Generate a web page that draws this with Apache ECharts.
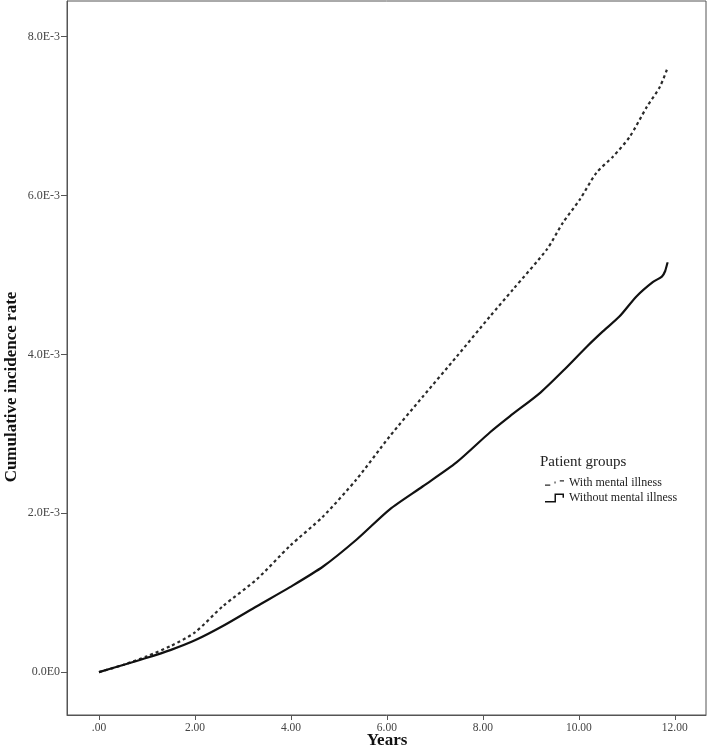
<!DOCTYPE html>
<html>
<head>
<meta charset="utf-8">
<script src="https://cdn.jsdelivr.net/npm/echarts@6/dist/echarts.min.js"></script>
<style>
html, body { margin: 0; padding: 0; background: #fff; }
#main { width: 709px; height: 746px; }
</style>
</head>
<body>
<div id="main"></div>
<script>
// years and cumulative incidence (in units of 1E-3)
var yearsWith = [0, 0.5, 1, 1.5, 2, 2.58, 3.29, 3.98, 4.67, 5.37, 6.06, 6.75, 7.45, 8.15, 8.63, 9.33, 9.67, 10.02, 10.37, 10.71, 11.06, 11.42, 11.69, 11.85];
var rateWith = [0, 0.09, 0.2, 0.33, 0.5, 0.83, 1.17, 1.59, 1.96, 2.43, 2.97, 3.47, 3.97, 4.48, 4.82, 5.32, 5.66, 5.95, 6.29, 6.49, 6.74, 7.12, 7.37, 7.61];

var yearsWithout = [0, 0.5, 1, 1.5, 2, 2.58, 3.29, 3.98, 4.67, 5.37, 6.06, 6.75, 7.45, 8.15, 8.56, 9.2, 9.7, 10.17, 10.5, 10.85, 11.2, 11.54, 11.73, 11.8, 11.85];
var rateWithout = [0, 0.09, 0.18, 0.28, 0.4, 0.58, 0.83, 1.07, 1.33, 1.67, 2.05, 2.34, 2.64, 3.02, 3.22, 3.52, 3.81, 4.1, 4.29, 4.48, 4.73, 4.91, 4.98, 5.05, 5.16];

var xTicks = [0, 2, 4, 6, 8, 10, 12];
var yTicks = [0, 2e-3, 4e-3, 6e-3, 8e-3];
var groupNames = ['With mental illness', 'Without mental illness'];

function pairs(xs, ys) {
	var out = [];
	for (var i = 0; i < xs.length; i++) {
		out.push([xs[i], ys[i] * 1e-3]);
	}
	return out;
}

var serif = '"Liberation Serif", "DejaVu Serif", serif';
var myChart = echarts.init(document.getElementById('main'));

// legend glyphs like the SPSS ones: dashes and a little step
var iconDash = 'path://M0,8 H5 V9 H0 Z M9,5 H10 V7 H9 Z M14,4 H18 V5 H14 Z';
var iconStep = 'path://M0,8 H9 V1 H18 V5 H16.6 V2.4 H10.4 V9.4 H0 Z';

var option = {
	backgroundColor: '#fff',
	animation: false,
	grid: {
		left: 67, top: 1, right: 3, bottom: 31,
		outerBoundsMode: 'none',
		containLabel: false,
		show: true, borderColor: '#555', borderWidth: 1
	},
	xAxis: {
		type: 'value',
		min: -0.667,
		max: 12.65,
		axisLine: { onZero: false, lineStyle: { color: '#555', width: 1 } },
		axisTick: { show: true, length: 5, customValues: xTicks, lineStyle: { color: '#555' } },
		axisLabel: {
			customValues: xTicks,
			fontFamily: serif, fontSize: 11.5, color: '#444', margin: 7,
			formatter: function(v) { return v === 0 ? '.00' : v.toFixed(2); }
		},
		splitLine: { show: false }
	},
	yAxis: {
		type: 'value',
		min: -0.54e-3,
		max: 8.45e-3,
		axisLine: { show: true, onZero: false, lineStyle: { color: '#555', width: 1 } },
		axisTick: { show: true, length: 6, customValues: yTicks, lineStyle: { color: '#555' } },
		axisLabel: {
			customValues: yTicks,
			fontFamily: serif, fontSize: 12, color: '#444', margin: 7,
			formatter: function(v) {
				if (Math.abs(v) < 1e-9) return '0.0E0';
				return (v * 1000).toFixed(1) + 'E-3';
			}
		},
		splitLine: { show: false }
	},
	legend: {
		orient: 'vertical',
		left: 540,
		top: 472,
		itemWidth: 19,
		itemHeight: 9,
		itemGap: 3,
		data: [
			{ name: groupNames[0], icon: iconDash },
			{ name: groupNames[1], icon: iconStep }
		],
		textStyle: { fontFamily: serif, fontSize: 12, color: '#222' }
	},
	graphic: [
		{
			type: 'text',
			left: 540, top: 455,
			style: { text: 'Patient groups', font: '15px ' + serif, fill: '#222' }
		},
		{
			type: 'text',
			x: 12, y: 387,
			rotation: Math.PI / 2,
			style: {
				text: 'Cumulative incidence rate',
				font: 'bold 17px ' + serif,
				fill: '#111',
				align: 'center',
				verticalAlign: 'middle'
			}
		},
		{
			type: 'text',
			x: 387, y: 741,
			style: {
				text: 'Years',
				font: 'bold 17px ' + serif,
				fill: '#111',
				align: 'center',
				verticalAlign: 'middle'
			}
		}
	],
	series: [
		{
			name: groupNames[0],
			type: 'line',
			symbol: 'none',
			smooth: 0.25,
			data: pairs(yearsWith, rateWith),
			lineStyle: { color: '#2a2a2a', width: 2.2, type: [3, 3] },
			itemStyle: { color: '#2a2a2a' }
		},
		{
			name: groupNames[1],
			type: 'line',
			symbol: 'none',
			smooth: 0.25,
			data: pairs(yearsWithout, rateWithout),
			lineStyle: { color: '#111', width: 2.2, type: 'solid' },
			itemStyle: { color: '#111' }
		}
	]
};

myChart.setOption(option, true);
</script>
</body>
</html>
